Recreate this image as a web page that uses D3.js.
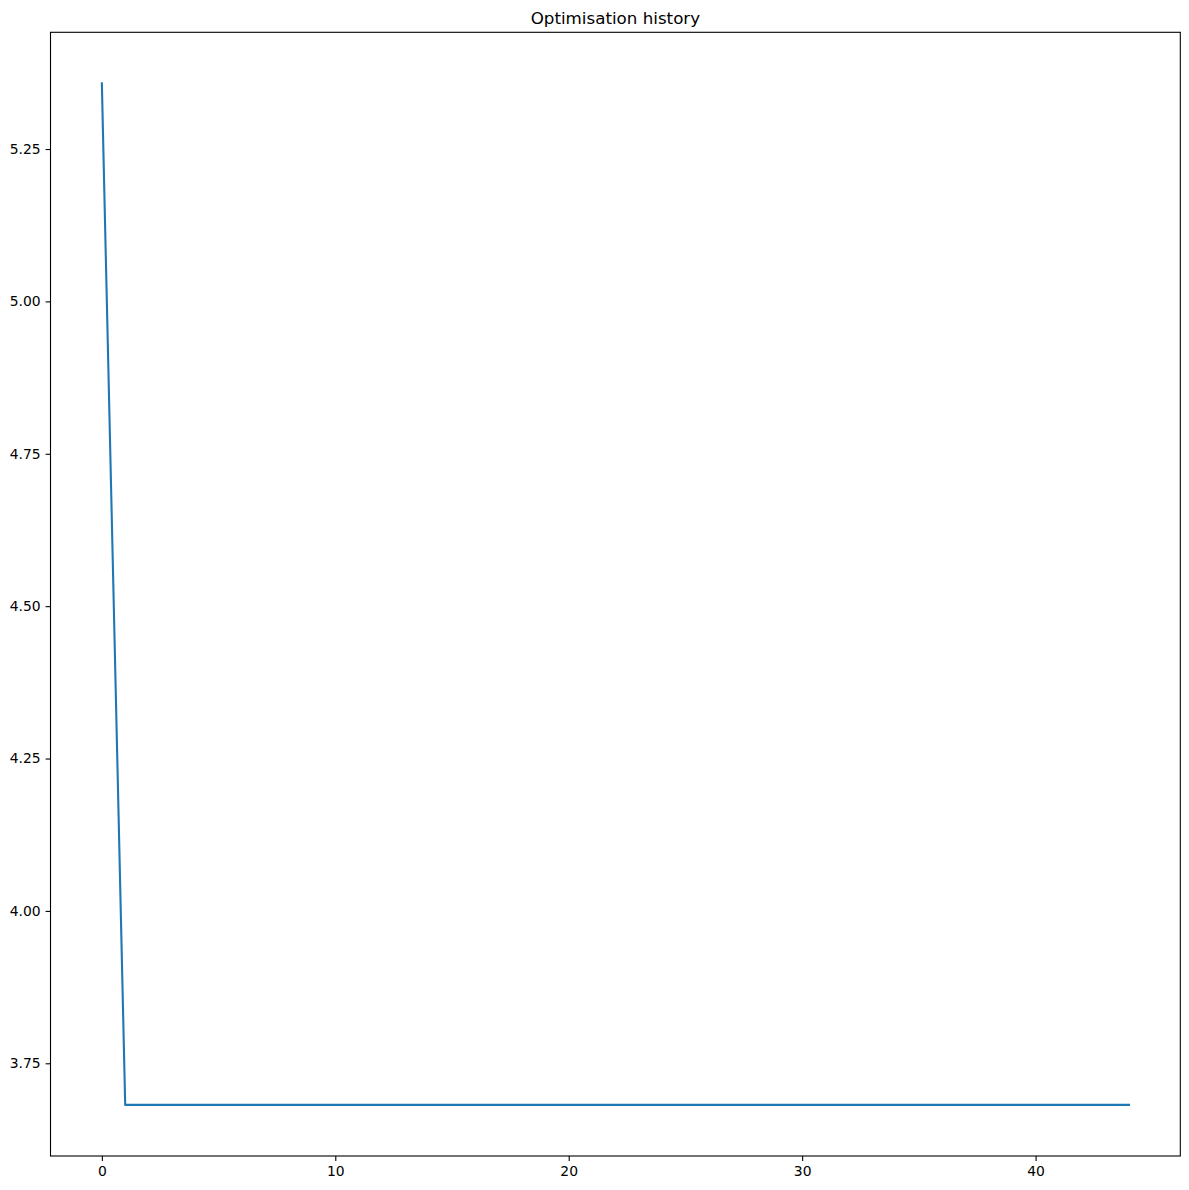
<!DOCTYPE html>
<html>
<head>
<meta charset="utf-8">
<script src="https://cdn.jsdelivr.net/npm/d3@7"></script>
<style>
  body { margin: 0; background: #fff; }
  svg { display: block; font-family: "DejaVu Sans", sans-serif; }
</style>
</head>
<body>
<svg id="chart" width="1189" height="1190"></svg>
<script>
// optimisation history: objective value per iteration
const iterations = d3.range(45);
const objective = [
  5.3577, 3.6817, 3.6817, 3.6817, 3.6817, 3.6817, 3.6817, 3.6817, 3.6817, 3.6817,
  3.6817, 3.6817, 3.6817, 3.6817, 3.6817, 3.6817, 3.6817, 3.6817, 3.6817, 3.6817,
  3.6817, 3.6817, 3.6817, 3.6817, 3.6817, 3.6817, 3.6817, 3.6817, 3.6817, 3.6817,
  3.6817, 3.6817, 3.6817, 3.6817, 3.6817, 3.6817, 3.6817, 3.6817, 3.6817, 3.6817,
  3.6817, 3.6817, 3.6817, 3.6817, 3.6817
];
const xTicks = [0, 10, 20, 30, 40];
const yTicks = [3.75, 4.00, 4.25, 4.50, 4.75, 5.00, 5.25];
const title = "Optimisation history";

const svg = d3.select("#chart");

// axes box, matplotlib-like
const box = { left: 50.5, right: 1180.3, top: 32.3, bottom: 1156 };

// 5% margins around the data range
const xExt = d3.extent(iterations), yExt = d3.extent(objective);
const xPad = (xExt[1] - xExt[0]) * 0.05, yPad = (yExt[1] - yExt[0]) * 0.05;

const x = d3.scaleLinear().domain([xExt[0] - xPad, xExt[1] + xPad]).range([box.left, box.right]);
const y = d3.scaleLinear().domain([yExt[0] - yPad, yExt[1] + yPad]).range([box.bottom, box.top]);

const line = d3.line()
  .x((d, i) => x(iterations[i]))
  .y(d => y(d));

svg.append("path")
  .datum(objective)
  .attr("fill", "none")
  .attr("stroke", "#1f77b4")
  .attr("stroke-width", 2.1)
  .attr("stroke-linejoin", "round")
  .attr("stroke-linecap", "square")
  .attr("d", line);

const xAxis = svg.append("g")
  .attr("transform", `translate(0,${box.bottom})`)
  .call(d3.axisBottom(x).tickValues(xTicks).tickFormat(d3.format("d")).tickSize(4.9).tickPadding(4.9));

const yAxis = svg.append("g")
  .attr("transform", `translate(${box.left},0)`)
  .call(d3.axisLeft(y).tickValues(yTicks).tickFormat(d3.format(".2f")).tickSize(4.9).tickPadding(4.9));

[xAxis, yAxis].forEach(a => {
  a.select(".domain").remove();
  a.selectAll(".tick line").attr("stroke", "#000").attr("stroke-width", 1.1);
  a.selectAll(".tick text")
    .attr("fill", "#000")
    .style("font-family", "DejaVu Sans")
    .style("font-size", "13.9px");
});

// frame
svg.append("rect")
  .attr("x", box.left)
  .attr("y", box.top)
  .attr("width", box.right - box.left)
  .attr("height", box.bottom - box.top)
  .attr("fill", "none")
  .attr("stroke", "#000")
  .attr("stroke-width", 1.1);

svg.append("text")
  .attr("x", (box.left + box.right) / 2)
  .attr("y", box.top - 8.3)
  .attr("text-anchor", "middle")
  .style("font-size", "16.7px")
  .attr("fill", "#000")
  .text(title);
</script>
</body>
</html>
